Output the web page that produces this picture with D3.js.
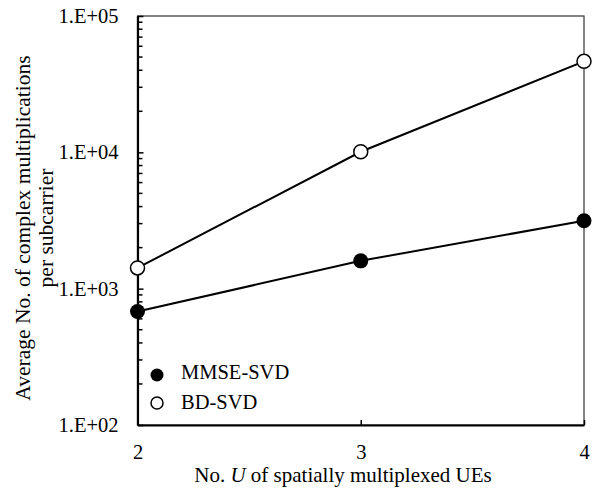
<!DOCTYPE html>
<html>
<head>
<meta charset="utf-8">
<script src="https://cdn.jsdelivr.net/npm/d3@7"></script>
<style>
body { margin: 0; background: #fff; }
text { font-family: "Liberation Serif", "Times New Roman", serif; fill: #000; }
</style>
</head>
<body>
<svg width="597" height="491"></svg>
<script>
var users = [2, 3, 4];
var mmseSvd = [680, 1600, 3150];
var bdSvd = [1420, 10100, 46500];
var yTicks = [1e2, 1e3, 1e4, 1e5];
var yTickLabels = ["1.E+02", "1.E+03", "1.E+04", "1.E+05"];

var svg = d3.select("svg"),
	margin = {top: 16, right: 13, bottom: 66, left: 137.5},
	width = +svg.attr("width") - margin.left - margin.right,
	height = +svg.attr("height") - margin.top - margin.bottom,
	g = svg.append("g").attr("transform", "translate(" + margin.left + "," + margin.top + ")");

var x = d3.scaleLinear().domain([2, 4]).range([0, width]);
var y = d3.scaleLog().domain([1e2, 1e5]).range([height, 0]);

// frame (top/right thin)
g.append("rect")
	.attr("width", width)
	.attr("height", height)
	.attr("fill", "none")
	.attr("stroke", "#333")
	.attr("stroke-width", 1.2);

// minor ticks on the y axis
var minor = [];
for (var e = 2; e < 5; e++) {
	for (var m = 2; m < 10; m++) minor.push(m * Math.pow(10, e));
}
g.selectAll(".minor")
	.data(minor)
	.enter().append("line")
	.attr("x1", 0).attr("x2", 5)
	.attr("y1", function(d) { return y(d); })
	.attr("y2", function(d) { return y(d); })
	.attr("stroke", "#000").attr("stroke-width", 1.5);

var yAxis = d3.axisLeft(y)
	.tickValues(yTicks)
	.tickFormat(function(d, i) { return yTickLabels[i]; })
	.tickSizeInner(-6).tickSizeOuter(0).tickPadding(19);
var ya = g.append("g").call(yAxis);
ya.select(".domain").attr("stroke-width", 2.2);
ya.selectAll(".tick line").attr("stroke-width", 1.5);
ya.selectAll("text").style("font-size", "20.5px").style("font-family", "Liberation Serif");

var xAxis = d3.axisBottom(x)
	.tickValues(users)
	.tickFormat(d3.format("d"))
	.tickSizeInner(-5).tickSizeOuter(0).tickPadding(19);
var xa = g.append("g").attr("transform", "translate(0," + height + ")").call(xAxis);
xa.select(".domain").attr("stroke-width", 2.2);
xa.selectAll(".tick line").attr("stroke-width", 1.5);
xa.selectAll("text").style("font-size", "20.5px").style("font-family", "Liberation Serif");

var line = d3.line()
	.x(function(d, i) { return x(users[i]); })
	.y(function(d) { return y(d); });

g.append("path").datum(mmseSvd)
	.attr("d", line).attr("fill", "none").attr("stroke", "#000").attr("stroke-width", 2);
g.append("path").datum(bdSvd)
	.attr("d", line).attr("fill", "none").attr("stroke", "#000").attr("stroke-width", 2);

g.selectAll(".mmse")
	.data(mmseSvd)
	.enter().append("circle")
	.attr("cx", function(d, i) { return x(users[i]); })
	.attr("cy", function(d) { return y(d); })
	.attr("r", 7.5)
	.attr("fill", "#000");

g.selectAll(".bd")
	.data(bdSvd)
	.enter().append("circle")
	.attr("cx", function(d, i) { return x(users[i]); })
	.attr("cy", function(d) { return y(d); })
	.attr("r", 7)
	.attr("fill", "#fff")
	.attr("stroke", "#000")
	.attr("stroke-width", 1.5);

// legend
var legend = g.append("g").attr("transform", "translate(19.5," + (375 - margin.top) + ")");
legend.append("circle").attr("cx", 0).attr("cy", 0).attr("r", 6.5).attr("fill", "#000");
legend.append("text").attr("x", 24).attr("y", 4).style("font-size", "20.5px").text("MMSE-SVD");
legend.append("circle").attr("cx", 0).attr("cy", 28).attr("r", 6).attr("fill", "#fff")
	.attr("stroke", "#000").attr("stroke-width", 1.5);
legend.append("text").attr("x", 24).attr("y", 34).style("font-size", "20.5px").text("BD-SVD");

// axis titles
var xt = svg.append("text")
	.attr("x", 343)
	.attr("y", 482)
	.attr("text-anchor", "middle")
	.style("font-size", "21px");
xt.append("tspan").text("No. ");
xt.append("tspan").style("font-style", "italic").text("U");
xt.append("tspan").text(" of spatially multiplexed UEs");

var yt = svg.append("text")
	.attr("transform", "translate(0,228) rotate(-90)")
	.attr("text-anchor", "middle")
	.style("font-size", "21.5px");
yt.append("tspan").attr("x", 0).attr("y", 30).text("Average No. of complex multiplications");
yt.append("tspan").attr("x", 0).attr("y", 53).text("per subcarrier");
</script>
</body>
</html>
